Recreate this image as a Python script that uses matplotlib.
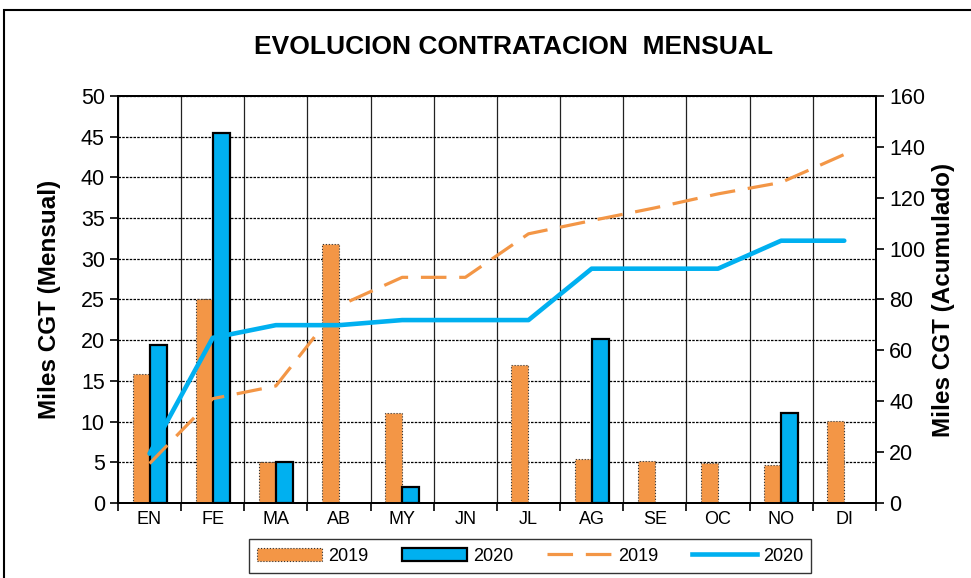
import numpy as np
import matplotlib
matplotlib.use("Agg")
import matplotlib.pyplot as plt
from matplotlib.patches import Rectangle, Patch
from matplotlib.lines import Line2D

plt.rcParams['font.family'] = ['Liberation Sans', 'DejaVu Sans']

# data
meses = ['EN', 'FE', 'MA', 'AB', 'MY', 'JN', 'JL', 'AG', 'SE', 'OC', 'NO', 'DI']
mensual_2019 = [15.8, 25.0, 5.0, 31.8, 11.0, 0, 17.0, 5.4, 5.1, 4.9, 4.7, 10.1]
mensual_2020 = [19.4, 45.5, 5.0, 0, 2.0, 0, 0, 20.2, 0, 0, 11.0, 0]
acum_2019 = [15.5, 41.0, 46.0, 77.5, 88.7, 88.7, 105.8, 111.0, 116.0, 121.5, 126.0, 137.0]
acum_2020 = [19.4, 64.9, 69.9, 69.9, 71.9, 71.9, 71.9, 92.1, 92.1, 92.1, 103.1, 103.1]

naranja = '#f39646'
azul = '#00b0f0'

fig = plt.figure(figsize=(9.71, 5.78), dpi=100)
ax = fig.add_axes([0.1215, 0.1298, 0.7805, 0.7042])
x = np.arange(len(meses))
w = 0.27

# only months with contracting get a bar
v19 = np.array(mensual_2019)
v20 = np.array(mensual_2020)
m19 = v19 > 0
m20 = v20 > 0
ax.bar(x[m19] - w/2, v19[m19], w, color=naranja, edgecolor='#333333',
       linestyle=':', linewidth=0.8, zorder=3)
ax.bar(x[m20] + w/2, v20[m20], w, color=azul, edgecolor='black',
       linewidth=1.6, zorder=3)

ax.set_xlim(-0.5, 11.5)
ax.set_ylim(0, 50)
ax.set_yticks(np.arange(0, 51, 5))
ax.set_xticks(x)
ax.set_xticklabels(meses, fontsize=13)
ax.tick_params(axis='x', length=0, pad=6)
ax.set_xticks(np.arange(-0.5, 12, 1), minor=True)
ax.tick_params(axis='x', which='minor', length=6, width=1.2, direction='out')
ax.tick_params(axis='y', labelsize=15.5, length=6, width=1.2, direction='out')
ax.grid(axis='y', color='black', linestyle=(0, (2, 1)), linewidth=0.9, zorder=0)
ax.grid(axis='x', which='minor', color='#222222', linestyle='-', linewidth=0.9, zorder=0)
for s in ax.spines.values():
    s.set_linewidth(1.4)
ax.set_ylabel('Miles CGT (Mensual)', fontsize=17.5, fontweight='bold', labelpad=14)

ax2 = ax.twinx()
ax2.set_ylim(0, 160)
ax2.set_yticks(np.arange(0, 161, 20))
ax2.tick_params(axis='y', labelsize=15.5, length=6, width=1.2, direction='out')
ax2.plot(x, acum_2019, color=naranja, linewidth=2.3, dashes=(8, 4), zorder=4)
ax2.plot(x, acum_2020, color=azul, linewidth=3.3, solid_capstyle='round', zorder=4)
ax2.set_ylabel('Miles CGT (Acumulado)', fontsize=17.5, fontweight='bold', labelpad=5)
for s in ax2.spines.values():
    s.set_linewidth(1.4)

fig.text(0.529, 0.918, 'EVOLUCION CONTRATACION  MENSUAL', ha='center', va='center',
         fontsize=19, fontweight='bold',
         family=['Liberation Sans Narrow', 'Liberation Sans', 'DejaVu Sans'])

handles = [
    Patch(facecolor=naranja, edgecolor='#333333', linestyle=':', linewidth=0.8),
    Patch(facecolor=azul, edgecolor='black', linewidth=1.6),
    Line2D([], [], color=naranja, linewidth=2.3, dashes=(8, 4)),
    Line2D([], [], color=azul, linewidth=3.3),
]
leg = fig.legend(handles, ['2019', '2020', '2019', '2020'], ncol=4,
                 loc='center', bbox_to_anchor=(0.546, 0.038), fontsize=13,
                 frameon=True, fancybox=False, edgecolor='black',
                 handlelength=3.6, columnspacing=1.9, handletextpad=0.3,
                 borderpad=0.45, borderaxespad=0)
leg.get_frame().set_linewidth(1.0)

# outer frame of the chart
fig.patches.append(Rectangle((0.004, -0.01), 1.1, 0.993, transform=fig.transFigure,
                             fill=False, edgecolor='black', linewidth=1.5))

fig.savefig('out.png', dpi=100)
